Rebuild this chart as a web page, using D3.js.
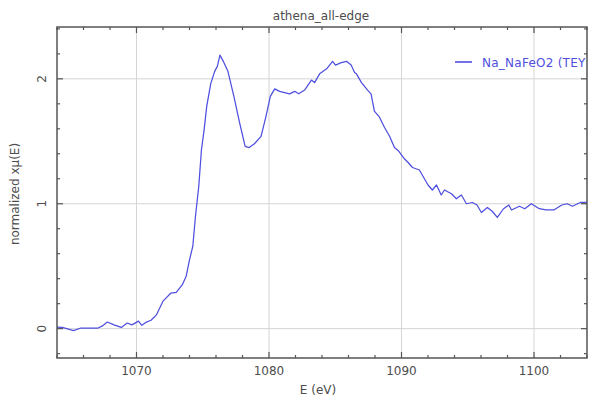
<!DOCTYPE html>
<html>
<head>
<meta charset="utf-8">
<script src="https://cdn.jsdelivr.net/npm/d3@7"></script>
<style>
  html, body { margin: 0; padding: 0; background: #fff; }
  svg { display: block; }
  text { font-family: "DejaVu Sans", sans-serif; }
</style>
</head>
<body>
<script>
// Fe L-edge spectrum, normalized
const energy = [
  1064.0, 1064.4, 1065.25, 1065.8, 1067.1, 1067.4, 1067.8, 1068.3, 1068.85, 1069.3,
  1069.65, 1070.15, 1070.4, 1070.7, 1071.1, 1071.5, 1072.0, 1072.6, 1073.0, 1073.45,
  1073.75, 1074.0, 1074.25, 1074.45, 1074.7, 1074.9, 1075.1, 1075.3, 1075.6, 1075.9,
  1076.1, 1076.3, 1076.55, 1076.9, 1077.35, 1077.8, 1078.2, 1078.5, 1078.9, 1079.4,
  1079.75, 1080.1, 1080.43, 1080.8, 1081.56, 1081.94, 1082.24, 1082.69, 1083.2, 1083.44,
  1083.82, 1084.35, 1084.8, 1085.02, 1085.45, 1085.85, 1086.2, 1086.46, 1086.6, 1086.98,
  1087.44, 1087.7, 1087.96, 1088.3, 1088.72, 1089.1, 1089.47, 1089.8, 1090.22, 1090.5,
  1090.83, 1091.35, 1091.73, 1092.0, 1092.33, 1092.64, 1093.0, 1093.24, 1093.77, 1094.14,
  1094.52, 1094.9, 1095.35, 1095.7, 1096.03, 1096.48, 1096.85, 1097.23, 1097.7, 1098.1,
  1098.3, 1098.9, 1099.3, 1099.8, 1100.4, 1100.9, 1101.5, 1102.1, 1102.5, 1102.9,
  1103.5, 1104.0
];
const mu = [
  0.013, 0.010, -0.016, 0.005, 0.005, 0.020, 0.053, 0.030, 0.010, 0.045,
  0.030, 0.060, 0.027, 0.050, 0.067, 0.110, 0.220, 0.285, 0.290, 0.350,
  0.420, 0.550, 0.660, 0.900, 1.140, 1.430, 1.590, 1.780, 1.960, 2.060,
  2.100, 2.190, 2.140, 2.060, 1.860, 1.640, 1.460, 1.450, 1.480, 1.540,
  1.690, 1.860, 1.920, 1.900, 1.880, 1.900, 1.880, 1.910, 1.990, 1.970,
  2.040, 2.080, 2.140, 2.110, 2.130, 2.140, 2.110, 2.050, 2.040, 1.970,
  1.910, 1.880, 1.740, 1.700, 1.610, 1.540, 1.450, 1.420, 1.360, 1.330,
  1.290, 1.270, 1.200, 1.150, 1.110, 1.150, 1.070, 1.110, 1.080, 1.040,
  1.070, 1.000, 1.010, 0.990, 0.930, 0.970, 0.940, 0.890, 0.960, 0.990,
  0.950, 0.980, 0.960, 1.000, 0.960, 0.950, 0.950, 0.990, 1.000, 0.980,
  1.010, 1.010
];
const xTicks = [1070, 1080, 1090, 1100];
const yTicks = [0, 1, 2];
const seriesName = "Na_NaFeO2 (TEY)";
const title = "athena_all-edge";

const W = 590, H = 403;
const m = { left: 57, right: 3, top: 27, bottom: 45 };
const iw = W - m.left - m.right, ih = H - m.top - m.bottom;

const x = d3.scaleLinear().domain([1064, 1104]).range([0, iw]);
const y = d3.scaleLinear().domain([-0.235, 2.415]).range([ih, 0]);

const textColor = "#4d4d4d";
const lineColor = "#4f4fe0";

const svg = d3.select("body").append("svg").attr("width", W).attr("height", H);
const g = svg.append("g").attr("transform", `translate(${m.left},${m.top})`);

svg.append("defs").append("clipPath").attr("id", "plotclip")
  .append("rect").attr("width", iw).attr("height", ih);

// grid lines at major ticks
g.append("g").selectAll("line.gx").data(xTicks).join("line")
  .attr("x1", d => x(d)).attr("x2", d => x(d)).attr("y1", 0).attr("y2", ih)
  .attr("stroke", "#d4d4d4").attr("stroke-width", 1);
g.append("g").selectAll("line.gy").data(yTicks).join("line")
  .attr("x1", 0).attr("x2", iw).attr("y1", d => y(d)).attr("y2", d => y(d))
  .attr("stroke", "#d4d4d4").attr("stroke-width", 1);

// inward ticks on all four sides
const xMinor = d3.range(1064, 1104.01, 2).filter(v => !xTicks.includes(v));
const yMinor = d3.range(-0.2, 2.41, 0.2).map(v => +v.toFixed(1)).filter(v => !yTicks.includes(v));
const tickG = g.append("g").attr("stroke", "#555").attr("stroke-width", 1.2);
function xt(vals, len) {
  vals.forEach(v => {
    tickG.append("line").attr("x1", x(v)).attr("x2", x(v)).attr("y1", ih).attr("y2", ih - len);
    tickG.append("line").attr("x1", x(v)).attr("x2", x(v)).attr("y1", 0).attr("y2", len);
  });
}
function yt(vals, len) {
  vals.forEach(v => {
    tickG.append("line").attr("y1", y(v)).attr("y2", y(v)).attr("x1", 0).attr("x2", len);
    tickG.append("line").attr("y1", y(v)).attr("y2", y(v)).attr("x1", iw).attr("x2", iw - len);
  });
}
xt(xTicks, 6); xt(xMinor, 3);
yt(yTicks, 6); yt(yMinor, 3);

// spectrum
const line = d3.line().x((d, i) => x(energy[i])).y(d => y(d));
g.append("path").datum(mu)
  .attr("clip-path", "url(#plotclip)")
  .attr("fill", "none").attr("stroke", lineColor).attr("stroke-width", 1.25)
  .attr("stroke-linejoin", "round")
  .attr("d", line);

// legend
const leg = g.append("g").attr("clip-path", "url(#plotclip)");
leg.append("line").attr("x1", 398).attr("x2", 415).attr("y1", 35).attr("y2", 35)
  .attr("stroke", lineColor).attr("stroke-width", 1.6);
leg.append("text").attr("x", 425).attr("y", 39.5)
  .attr("font-size", 12).attr("letter-spacing", 0.25).attr("fill", lineColor).text(seriesName);

// frame
g.append("rect").attr("width", iw).attr("height", ih)
  .attr("fill", "none").attr("stroke", "#555").attr("stroke-width", 1.5);

// tick labels
g.append("g").selectAll("text").data(xTicks).join("text")
  .attr("x", d => x(d)).attr("y", ih + 17)
  .attr("text-anchor", "middle").attr("font-size", 12).attr("fill", textColor)
  .text(d => d);
g.append("g").selectAll("text").data(yTicks).join("text")
  .attr("transform", d => `translate(-11,${y(d)}) rotate(-90)`)
  .attr("text-anchor", "middle").attr("font-size", 12).attr("fill", textColor)
  .text(d => d);

// titles
svg.append("text").attr("x", 321).attr("y", 20).attr("text-anchor", "middle")
  .attr("font-size", 12).attr("fill", textColor).text(title);
svg.append("text").attr("x", 318).attr("y", 394).attr("text-anchor", "middle")
  .attr("font-size", 12).attr("fill", textColor).text("E (eV)");
svg.append("text").attr("transform", "translate(19,194) rotate(-90)")
  .attr("text-anchor", "middle").attr("font-size", 12).attr("fill", textColor)
  .text("normalized xμ(E)");
</script>
</body>
</html>
